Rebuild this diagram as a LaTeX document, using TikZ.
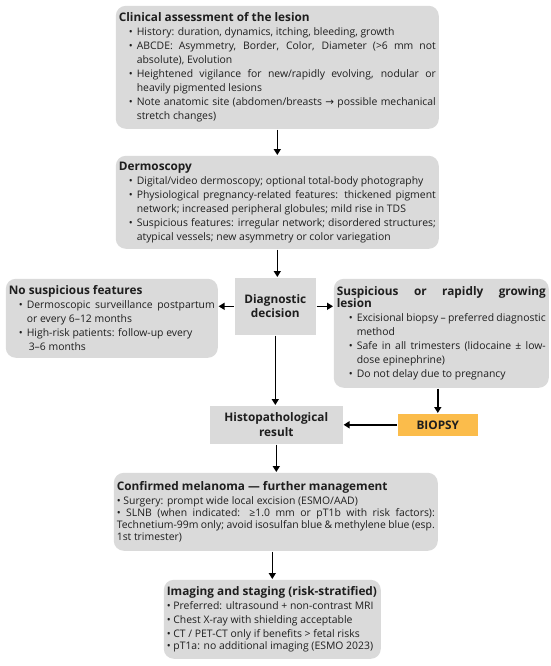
\documentclass[tikz,border=0pt]{standalone}
\usepackage{fontspec}
\setmainfont{Open Sans}
\newfontfamily\arrowfont{DejaVu Sans}
\usepackage{enumitem}
\usetikzlibrary{arrows.meta}

\definecolor{boxgray}{HTML}{DADADA}
\definecolor{biopsyorange}{HTML}{FBBC4B}
\definecolor{txtdark}{HTML}{1E1E1E}

\def\bodysize{\fontsize{10.4}{14}\selectfont\hyphenpenalty=10000}
\def\headsize{\fontsize{11.8}{14.5}\selectfont\bfseries}

\begin{document}
\begin{tikzpicture}[x=1pt,y=-1pt,line width=1.6pt,
    -{Triangle[length=6pt,width=7pt]},text=txtdark]
    \tikzstyle{step box}=[draw=none,fill=boxgray,rounded corners=10pt,
        anchor=north west,inner xsep=3pt,inner ysep=4pt,align=justify]
    \tikzstyle{plain box}=[draw=none,fill=boxgray,anchor=north west,
        align=center,font=\headsize]
    \setlist[itemize]{nosep,leftmargin=18pt,labelwidth=6pt,labelsep=4pt,
        label=\textbullet}

    % fixed canvas
    \useasboundingbox (0,0) rectangle (550,666);

    % Draw the main column
    \node[step box,text width=317pt,minimum height=123pt] (assess) at (115,5)
        {{\headsize Clinical assessment of the lesion}\par\bodysize
        \begin{itemize}
        \item History: duration, dynamics, itching, bleeding, growth
        \item ABCDE: Asymmetry, Border, Color, Diameter (>6 mm not absolute), Evolution
        \item Heightened vigilance for new/rapidly evolving, nodular or heavily pigmented lesions
        \item Note anatomic site (abdomen/breasts {\arrowfont →} possible mechanical stretch changes)
        \end{itemize}};
    \node[step box,text width=317pt,minimum height=93pt] (dermo) at (115,155)
        {{\headsize Dermoscopy}\par\bodysize
        \begin{itemize}
        \item Digital/video dermoscopy; optional total-body photography
        \item Physiological pregnancy-related features: thickened pigment network; increased peripheral globules; mild rise in TDS
        \item Suspicious features: irregular network; disordered structures; atypical vessels; new asymmetry or color variegation
        \end{itemize}};
    \node[plain box,minimum width=81pt,minimum height=57pt] (decision) at (234,277)
        {Diagnostic\\decision};

    % Draw the two branches
    \node[step box,text width=206pt,minimum height=79pt] (benign) at (5,278)
        {{\headsize No suspicious features}\par\bodysize
        \begin{itemize}
        \item Dermoscopic surveillance postpartum or every 6–12 months
        \item High-risk patients: follow-up every\newline\hspace*{2pt}3–6 months
        \end{itemize}};
    \node[step box,text width=209pt,minimum height=109pt] (suspect) at (333,278)
        {{\headsize Suspicious or rapidly growing\linebreak lesion}\par\bodysize
        \begin{itemize}[leftmargin=20pt]
        \item Excisional biopsy – preferred diagnostic method
        \item Safe in all trimesters (lidocaine ± low-dose epinephrine)
        \item Do not delay due to pregnancy
        \end{itemize}};
    \node[plain box,fill=biopsyorange,minimum width=80pt,minimum height=22pt] (biopsy) at (397,413)
        {BIOPSY};
    \node[plain box,minimum width=133pt,minimum height=38pt] (histo) at (209,405)
        {Histopathological\\result};

    % Draw the management steps
    \node[step box,text width=318pt,minimum height=78pt] (melanoma) at (113,472)
        {{\headsize Confirmed melanoma — further management}\par\bodysize
        • Surgery: prompt wide local excision (ESMO/AAD)\par
        • SLNB (when indicated: ≥1.0 mm or pT1b with risk factors): Technetium-99m only; avoid isosulfan blue \& methylene blue (esp. 1st trimester)};
    \node[step box,text width=211pt,minimum height=79pt] (imaging) at (163,579)
        {{\headsize Imaging and staging (risk-stratified)}\par\bodysize
        • Preferred: ultrasound + non-contrast MRI\par
        • Chest X-ray with shielding acceptable\par
        • CT / PET-CT only if benefits > fetal risks\par
        • pT1a: no additional imaging (ESMO 2023)};

    % Connect the steps
    \draw (assess.south) -- (dermo.north);
    \draw (dermo.south) -- (decision.north -| dermo.south);
    \draw (decision.west) -- (decision.west -| benign.east);
    \draw (decision.east) -- (decision.east -| suspect.west);
    \draw (decision.south) -- (histo.north -| decision.south);
    \draw (biopsy.north |- suspect.south) -- (biopsy.north);
    \draw (biopsy.west) -- (biopsy.west -| histo.east);
    \draw (histo.south) -- (melanoma.north -| histo.south);
    \draw (imaging.north |- melanoma.south) -- (imaging.north);
\end{tikzpicture}
\end{document}
